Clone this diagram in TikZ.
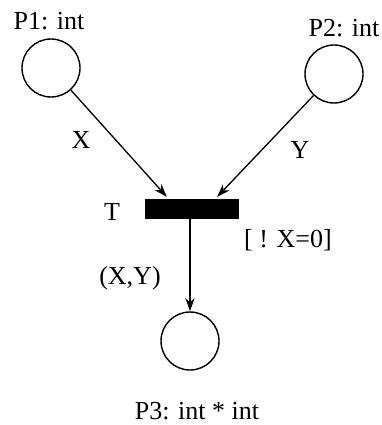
\documentclass[tikz,border=0pt]{standalone}
\usepackage{fontspec}
\setmainfont{Liberation Serif}
\usetikzlibrary{arrows.meta,calc}
\begin{document}
\begin{tikzpicture}[x=1pt,y=-1pt,
  place/.style={draw,circle,line width=1.4pt,minimum size=58pt,inner sep=0pt},
  trans/.style={draw,fill=black,rectangle,minimum width=93pt,minimum height=19pt,inner sep=0pt},
  lbl/.style={inner sep=0pt,font=\fontsize{26}{30}\selectfont},
  arc/.style={line width=1.3pt,-{Stealth[length=13pt,width=9pt,inset=4pt]}}]
\useasboundingbox (0,0) rectangle (381,425);
\node[place] (p1) at (51,68) {};
\node[place] (p2) at (334,74) {};
\node[place] (p3) at (190,341) {};
\node[trans] (t) at (191.5,208.5) {};
\coordinate (in1) at ($(t.north west)+(22,-2)$);
\coordinate (in2) at ($(t.north east)+(-21,-2)$);
\node[lbl] (l1) at (49,21) {P1: int};
\node[lbl] (l2) at (344,28) {P2: int};
\node[lbl] (l3) at (197,411) {P3: int * int};
\node[lbl] (lt) at (112,212) {T};
\node[lbl] (lg) at (288,240) {[ ! X=0]};
\node[lbl] (lx) at (81,140) {X};
\node[lbl] (ly) at (300,150) {Y};
\node[lbl] (lxy) at (130,278) {(X,Y)};
\draw[arc] (p1) -- (in1);
\draw[arc] (p2) -- (in2);
\draw[arc] (t.south -| p3) -- (p3);
\end{tikzpicture}
\end{document}
